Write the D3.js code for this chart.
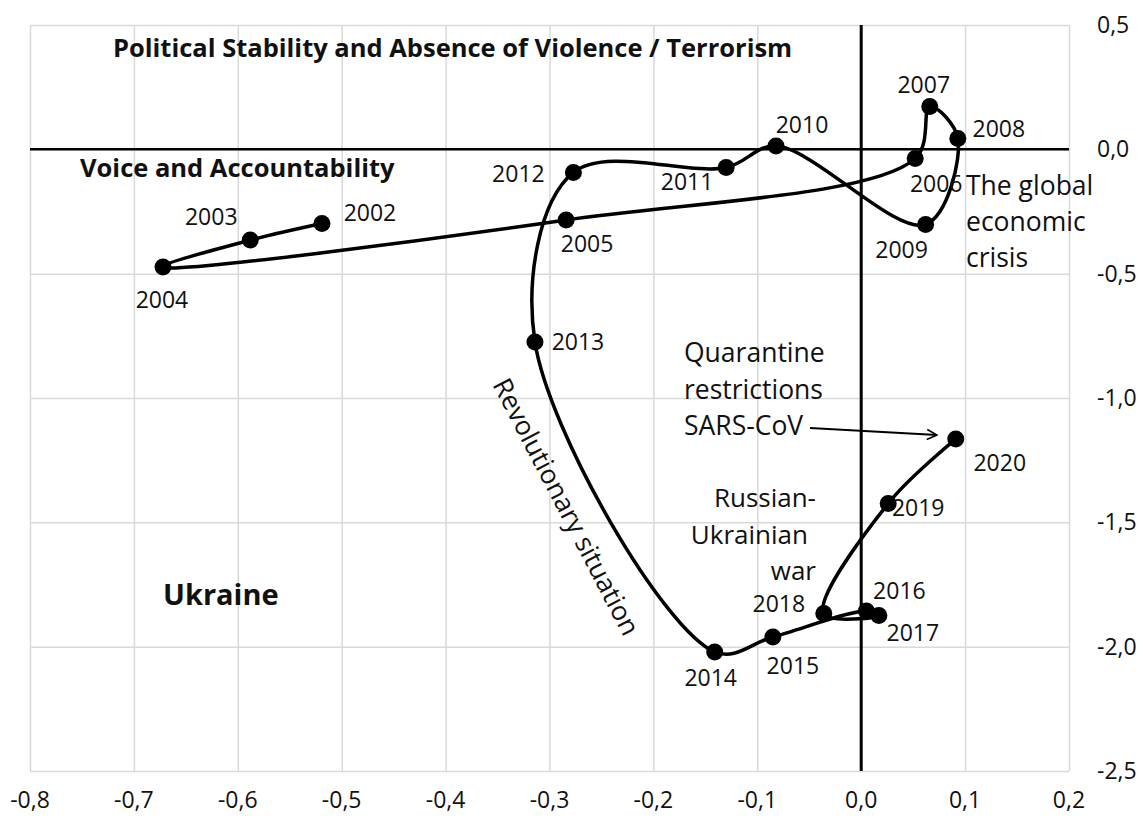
<!DOCTYPE html>
<html>
<head>
<meta charset="utf-8">
<script src="https://cdn.jsdelivr.net/npm/d3@7"></script>
<style>
  body { margin: 0; background: #fff; }
  text { font-family: "Open Sans", sans-serif; fill: #111; }
</style>
</head>
<body>
<div id="chart"></div>
<script>
const years = [2002, 2003, 2004, 2005, 2006, 2007, 2008, 2009, 2010, 2011,
               2012, 2013, 2014, 2015, 2016, 2017, 2018, 2019, 2020];
// Voice and Accountability (x)
const voice = [-0.519, -0.588, -0.672, -0.284, 0.052, 0.066, 0.093, 0.062, -0.082, -0.130,
               -0.277, -0.314, -0.141, -0.085, 0.005, 0.017, -0.036, 0.026, 0.091];
// Political Stability and Absence of Violence / Terrorism (y)
const stability = [-0.298, -0.365, -0.473, -0.284, -0.037, 0.172, 0.044, -0.302, 0.013, -0.073,
                   -0.093, -0.775, -2.021, -1.961, -1.857, -1.875, -1.867, -1.424, -1.165];
const xTicks = [-0.8, -0.7, -0.6, -0.5, -0.4, -0.3, -0.2, -0.1, 0.0, 0.1, 0.2];
const yTicks = [0.5, 0.0, -0.5, -1.0, -1.5, -2.0, -2.5];

// label placement around each point (px)
const labelOffsets = [[48, -10], [-39, -23], [-1, 33], [21, 24], [21, 25], [-6, -22], [41, -9],
                      [-24, 26], [26, -21], [-39, 15], [-55, 2], [43, 0], [-4, 26], [20, 29],
                      [33, -20], [34, 17], [-45, -10], [30, 5], [44, 24]];

const W = 1143, H = 820;
const svg = d3.select("#chart").append("svg")
    .attr("width", W).attr("height", H);

const x = d3.scaleLinear().domain([-0.8, 0.2]).range([30, 1069]);
const y = d3.scaleLinear().domain([-2.5, 0.5]).range([771, 25]);
const fmt = d => d3.format(".1f")(d).replace(".", ",").replace("−", "-");

// grid
svg.append("g")
   .attr("transform", `translate(0,${y(-2.5)})`)
   .call(d3.axisBottom(x).tickValues(xTicks).tickSize(-(y(-2.5) - y(0.5))).tickFormat(""))
   .call(g => g.select(".domain").remove())
   .call(g => g.selectAll("line").attr("stroke", "#d9d9d9").attr("stroke-width", 1.5));
svg.append("g")
   .attr("transform", `translate(${x(-0.8)},0)`)
   .call(d3.axisLeft(y).tickValues(yTicks).tickSize(-(x(0.2) - x(-0.8))).tickFormat(""))
   .call(g => g.select(".domain").remove())
   .call(g => g.selectAll("line").attr("stroke", "#d9d9d9").attr("stroke-width", 1.5));

// tick labels
svg.append("g").selectAll("text").data(xTicks).enter().append("text")
   .attr("x", d => x(d)).attr("y", 808)
   .attr("text-anchor", "middle").attr("font-size", 23)
   .text(fmt);
svg.append("g").selectAll("text").data(yTicks).enter().append("text")
   .attr("x", 1097).attr("y", d => y(d) + 8)
   .attr("font-size", 23)
   .text(fmt);

// zero axes
svg.append("line").attr("x1", x(-0.8)).attr("x2", x(0.2)).attr("y1", y(0)).attr("y2", y(0))
   .attr("stroke", "#000").attr("stroke-width", 2.5);
svg.append("line").attr("x1", x(0)).attr("x2", x(0)).attr("y1", y(0.5)).attr("y2", y(-2.5))
   .attr("stroke", "#000").attr("stroke-width", 3);

// trajectory
const pts = years.map((yr, i) => [voice[i], stability[i]]);
svg.append("path")
   .datum(pts)
   .attr("fill", "none").attr("stroke", "#000").attr("stroke-width", 3.5)
   .attr("d", d3.line().x(d => x(d[0])).y(d => y(d[1])).curve(d3.curveCatmullRom.alpha(0.5)));

svg.append("g").selectAll("circle").data(pts).enter().append("circle")
   .attr("cx", d => x(d[0])).attr("cy", d => y(d[1])).attr("r", 8.5).attr("fill", "#000");

svg.append("g").selectAll("text").data(years).enter().append("text")
   .attr("x", (d, i) => x(voice[i]) + labelOffsets[i][0])
   .attr("y", (d, i) => y(stability[i]) + labelOffsets[i][1] + 8)
   .attr("text-anchor", "middle").attr("font-size", 23)
   .text(d => d);

// annotations
svg.append("text").attr("x", 113).attr("y", 57).attr("font-size", 25.5).attr("font-weight", "bold")
   .text("Political Stability and Absence of Violence / Terrorism");
svg.append("text").attr("x", 80).attr("y", 177).attr("font-size", 25.5).attr("font-weight", "bold")
   .text("Voice and Accountability");
svg.append("text").attr("x", 163).attr("y", 605).attr("font-size", 29).attr("font-weight", "bold")
   .text("Ukraine");

const multi = (lines, x0, y0, dy, anchor) => {
  const t = svg.append("text").attr("font-size", 26.5).attr("text-anchor", anchor);
  lines.forEach((s, i) => t.append("tspan").attr("x", x0).attr("y", y0 + i * dy).text(s));
};
multi(["The global", "economic", "crisis"], 966, 195, 36, "start");
multi(["Quarantine", "restrictions", "SARS-CoV"], 684, 362, 36.5, "start");
svg.append("text").attr("font-size", 26).attr("text-anchor", "end").attr("x", 816).attr("y", 507).text("Russian-");
svg.append("text").attr("font-size", 26).attr("text-anchor", "end").attr("x", 808).attr("y", 544).text("Ukrainian");
svg.append("text").attr("font-size", 26).attr("text-anchor", "end").attr("x", 816).attr("y", 580).text("war");

svg.append("text").attr("font-size", 26.5)
   .attr("transform", "translate(566,507) rotate(62.5)")
   .attr("text-anchor", "middle").attr("dy", 9)
   .text("Revolutionary situation");

// arrow to 2020
svg.append("defs").append("marker")
   .attr("id", "arr").attr("viewBox", "0 0 12 12").attr("refX", 11).attr("refY", 6)
   .attr("markerWidth", 12).attr("markerHeight", 12).attr("markerUnits", "userSpaceOnUse")
   .attr("orient", "auto")
   .append("path").attr("d", "M1,1 L11,6 L1,11").attr("fill", "none")
   .attr("stroke", "#000").attr("stroke-width", 1.6);
svg.append("line").attr("x1", 810).attr("y1", 428).attr("x2", 937).attr("y2", 435)
   .attr("stroke", "#000").attr("stroke-width", 2).attr("marker-end", "url(#arr)");
</script>
</body>
</html>
